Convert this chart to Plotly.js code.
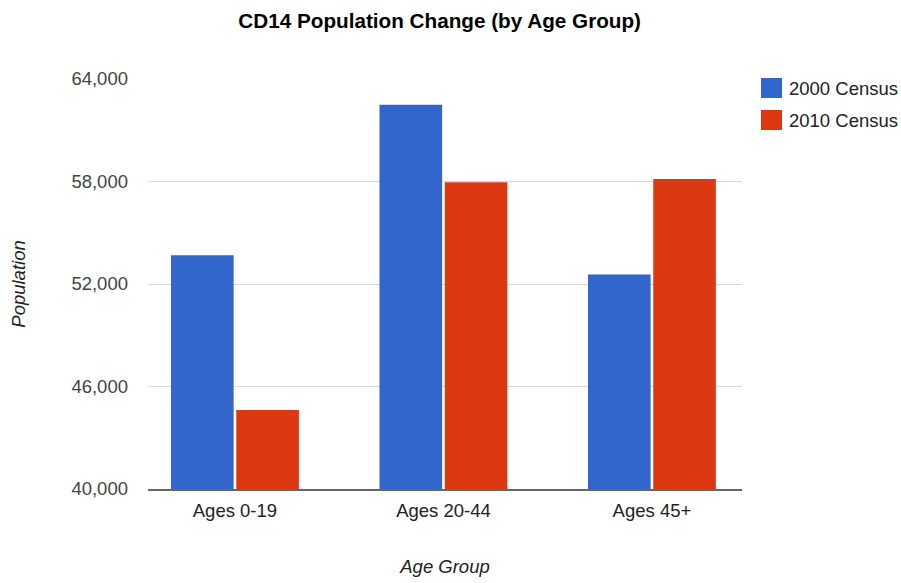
<!DOCTYPE html>
<html>
<head>
<meta charset="utf-8">
<script src="https://cdn.plot.ly/plotly-3.0.1.min.js"></script>
<style>html,body{margin:0;padding:0;background:#fff;}#chart{width:901px;height:583px;}</style>
</head>
<body>
<div id="chart"></div>
<script>
var categories = ["Ages 0-19", "Ages 20-44", "Ages 45+"];
var seriesNames = ["2000 Census", "2010 Census"];
var census2000 = [53690, 62490, 52560];
var census2010 = [44620, 57960, 58140];
var seriesColors = ["#3366cc", "#dc3912"];
var yTickValues = [40000, 46000, 52000, 58000, 64000];

var FONT = "Arial, 'Liberation Sans', sans-serif";
var W = 901, H = 583;
var M = {l: 148, r: 159, t: 79, b: 94};
var pw = W - M.l - M.r, ph = H - M.t - M.b;
function px2x(px) { return (px - M.l) / pw; }
function py2y(py) { return (H - M.b - py) / ph; }

var seriesValues = [census2000, census2010];
var traces = seriesNames.map(function (name, i) {
  return {
    type: "bar",
    name: name,
    x: categories,
    y: seriesValues[i],
    marker: {color: seriesColors[i], line: {width: 0}},
    showlegend: false,
    hoverinfo: "x+y+name"
  };
});

// custom legend (larger swatches as in reference)
var shapes = [], annotations = [];
seriesNames.forEach(function (name, i) {
  var top = 78 + i * 32;
  shapes.push({
    type: "rect", xref: "paper", yref: "paper",
    x0: px2x(761), x1: px2x(782), y0: py2y(top + 20), y1: py2y(top),
    fillcolor: seriesColors[i], line: {width: 0}
  });
  annotations.push({
    xref: "paper", yref: "paper", x: px2x(787), y: py2y(top + 10),
    xanchor: "left", yanchor: "middle", showarrow: false,
    text: name, font: {family: FONT, size: 18.5, color: "#222"}
  });
});

var layout = {
  width: W, height: H,
  margin: M,
  paper_bgcolor: "#fff", plot_bgcolor: "#fff",
  font: {family: FONT, size: 18.5, color: "#444"},
  title: {
    text: "<b>CD14 Population Change (by Age Group)</b>",
    font: {family: FONT, size: 20.7, color: "#000"},
    xref: "container", x: 0.488, xanchor: "center",
    yref: "container", y: 1 - 21 / H, yanchor: "middle"
  },
  barmode: "group",
  bargap: 0.374,
  bargroupgap: 0.04,
  showlegend: false,
  xaxis: {
    type: "category",
    range: [-0.417, 2.432],
    showgrid: false,
    zeroline: false,
    showline: true, linecolor: "#666", linewidth: 2,
    ticks: "", ticklabelstandoff: 4,
    tickfont: {family: FONT, size: 18.5, color: "#222"},
    title: {text: "<i>Age Group</i>", standoff: 40, font: {family: FONT, size: 18.5, color: "#222"}},
    fixedrange: true
  },
  yaxis: {
    range: [40000, 64000],
    tickvals: yTickValues,
    tickformat: ",d",
    showgrid: true, gridcolor: "#d9d9d9", gridwidth: 1,
    zeroline: false, showline: false,
    ticks: "", ticklabelstandoff: 19,
    tickfont: {family: FONT, size: 18.5, color: "#444"},
    title: {text: "<i>Population</i>", standoff: 40, font: {family: FONT, size: 18.5, color: "#222"}},
    fixedrange: true
  },
  shapes: shapes,
  annotations: annotations
};

Plotly.newPlot("chart", traces, layout, {displayModeBar: false, staticPlot: true});
</script>
</body>
</html>
